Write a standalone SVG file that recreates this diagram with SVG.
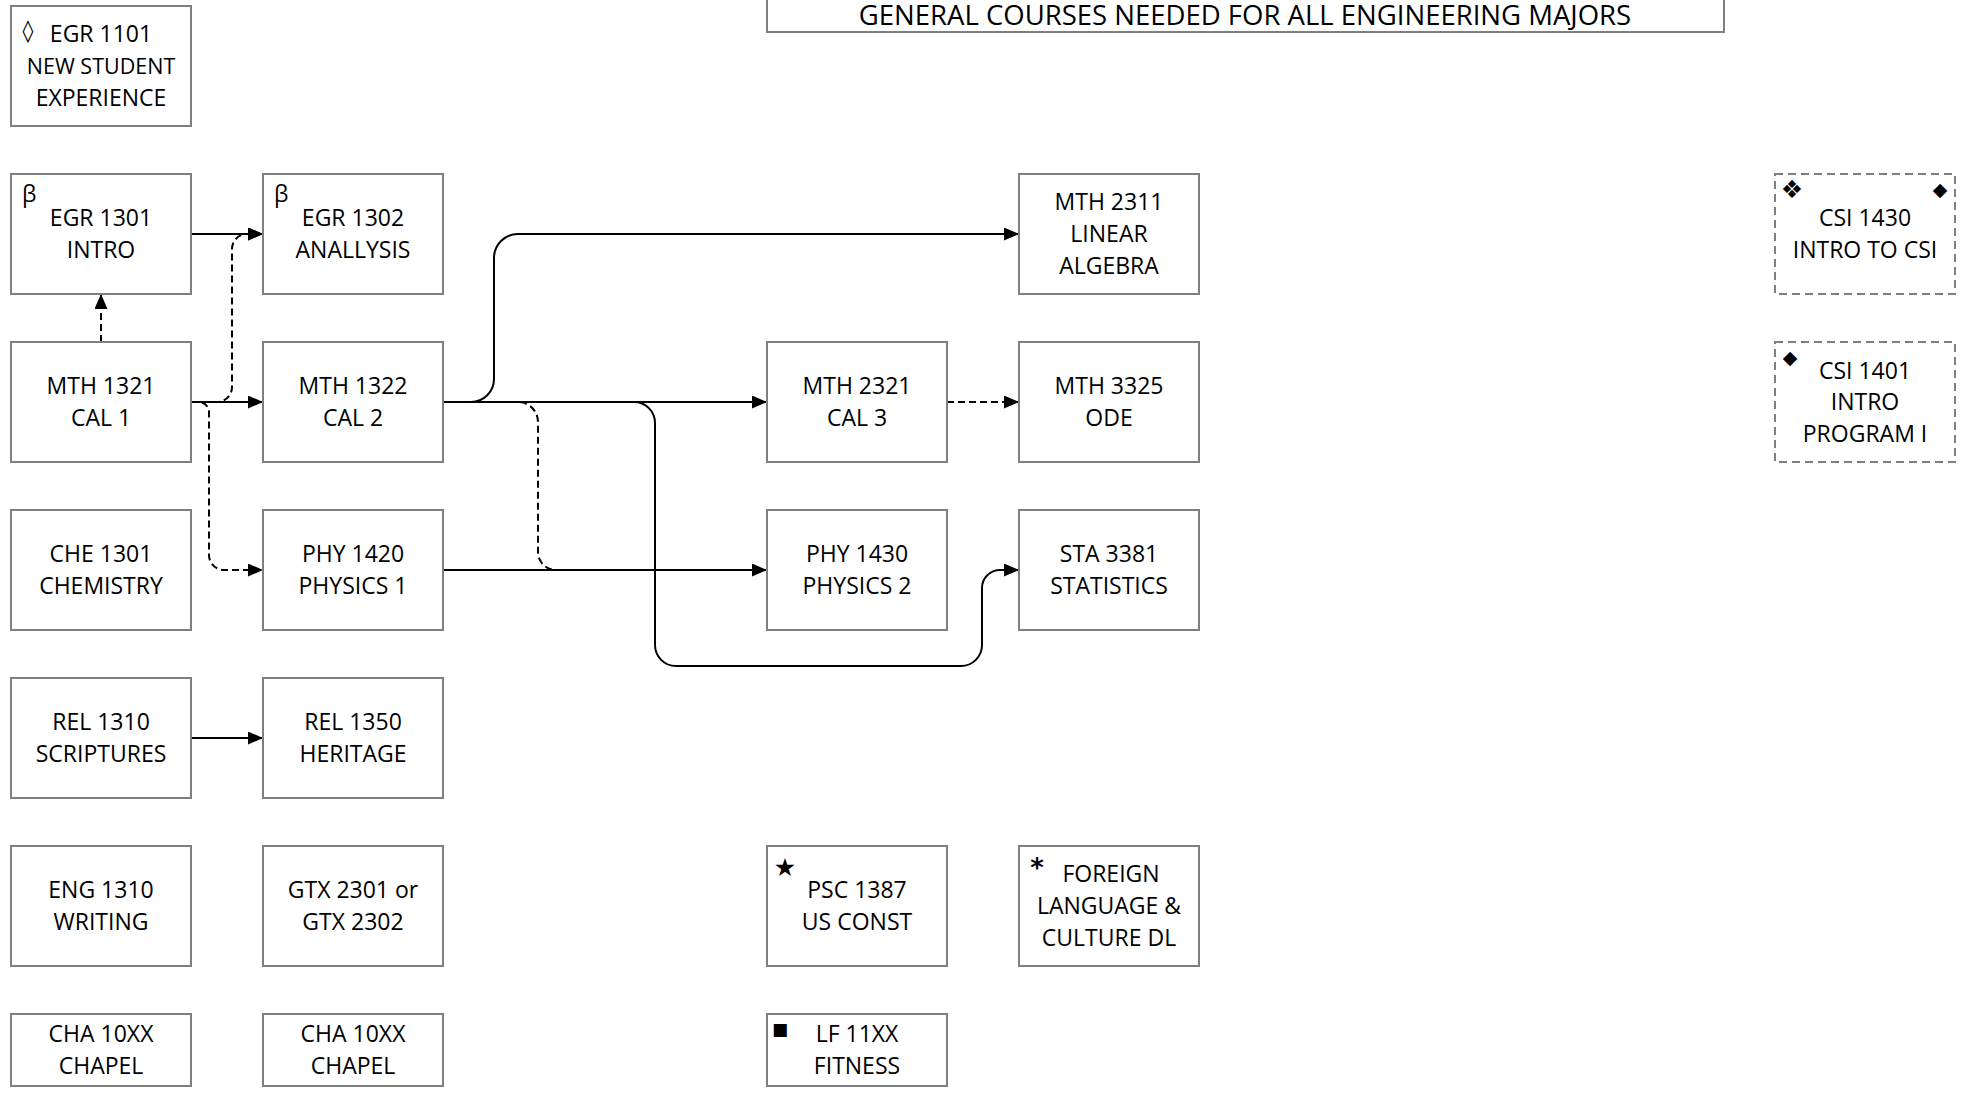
<svg xmlns="http://www.w3.org/2000/svg" width="1976" height="1095" viewBox="0 0 1976 1095">
<style>
.box{fill:#fff;stroke:#7f7f7f;stroke-width:2}
.dbox{fill:#fff;stroke:#7f7f7f;stroke-width:2;stroke-dasharray:8 5}
.t{font-family:'Open Sans','Noto Sans',sans-serif;font-size:23px;text-anchor:middle;fill:#000}
.title{font-family:'Open Sans','Noto Sans',sans-serif;font-size:27.5px;text-anchor:middle;fill:#000}
.sym{font-family:'DejaVu Sans',sans-serif;fill:#000;text-anchor:middle}
.beta{font-family:'Open Sans','Noto Sans',sans-serif;font-size:23px;fill:#000}
.c{fill:none;stroke:#000;stroke-width:2;marker-end:url(#arr)}
.cn{fill:none;stroke:#000;stroke-width:2}
.d{stroke-dasharray:7 4}
</style>
<defs>
<marker id="arr" markerUnits="userSpaceOnUse" markerWidth="15" markerHeight="13" refX="15" refY="6.5" orient="auto">
<path d="M0,0 L15,6.5 L0,13 z" fill="#000"/>
</marker>
</defs>
<rect width="1976" height="1095" fill="#fff"/>

<g id="title">
<rect x="767" y="-30" width="957" height="62" class="box"/>
<text x="1245" y="25" class="title">GENERAL COURSES NEEDED FOR ALL ENGINEERING MAJORS</text>
</g>

<g id="connectors">
<path class="c" d="M191,234 H263"/>
<path class="c d" d="M101,342 V294"/>
<path class="c d" d="M191,402 H217 A15,15 0 0 0 232,387 V249 A15,15 0 0 1 247,234 H263"/>
<path class="c d" d="M191,402 H199 A10,10 0 0 1 209,412 V555 A15,15 0 0 0 224,570 H263"/>
<path class="c" d="M191,402 H263"/>
<path class="c" d="M443,402 H471 A23,23 0 0 0 494,379 V258 A24,24 0 0 1 518,234 H1019"/>
<path class="cn d" d="M443,402 H518 A20,20 0 0 1 538,422 V552 A18,18 0 0 0 556,570"/>
<path class="c" d="M443,402 H634 A21,21 0 0 1 655,423 V645 A21,21 0 0 0 676,666 H961 A21,21 0 0 0 982,645 V588 A18,18 0 0 1 1000,570 H1019"/>
<path class="c" d="M443,402 H767"/>
<path class="c d" d="M947,402 H1019"/>
<path class="c" d="M443,570 H767"/>
<path class="c" d="M191,738 H263"/>
</g>

<g id="egr1101">
<rect x="11" y="6" width="180" height="120" class="box"/>
<text x="28" y="38" class="sym" font-size="22">◊</text>
<text x="101" y="42" class="t">EGR 1101</text>
<text x="101" y="74" class="t" style="font-size:21.5px">NEW STUDENT</text>
<text x="101" y="106" class="t">EXPERIENCE</text>
</g>

<g id="egr1301">
<rect x="11" y="174" width="180" height="120" class="box"/>
<text x="22" y="202" class="beta">β</text>
<text x="101" y="226" class="t">EGR 1301</text>
<text x="101" y="258" class="t">INTRO</text>
</g>

<g id="egr1302">
<rect x="263" y="174" width="180" height="120" class="box"/>
<text x="274" y="202" class="beta">β</text>
<text x="353" y="226" class="t">EGR 1302</text>
<text x="353" y="258" class="t">ANALLYSIS</text>
</g>

<g id="mth2311">
<rect x="1019" y="174" width="180" height="120" class="box"/>
<text x="1109" y="210" class="t">MTH 2311</text>
<text x="1109" y="242" class="t">LINEAR</text>
<text x="1109" y="274" class="t">ALGEBRA</text>
</g>

<g id="csi1430">
<rect x="1775" y="174" width="180" height="120" class="dbox"/>
<text x="1792" y="198" class="sym" font-size="25">❖</text>
<text x="1940" y="196" class="sym" font-size="19">◆</text>
<text x="1865" y="226" class="t">CSI 1430</text>
<text x="1865" y="258" class="t">INTRO TO CSI</text>
</g>

<g id="mth1321">
<rect x="11" y="342" width="180" height="120" class="box"/>
<text x="101" y="394" class="t">MTH 1321</text>
<text x="101" y="426" class="t">CAL 1</text>
</g>

<g id="mth1322">
<rect x="263" y="342" width="180" height="120" class="box"/>
<text x="353" y="394" class="t">MTH 1322</text>
<text x="353" y="426" class="t">CAL 2</text>
</g>

<g id="mth2321">
<rect x="767" y="342" width="180" height="120" class="box"/>
<text x="857" y="394" class="t">MTH 2321</text>
<text x="857" y="426" class="t">CAL 3</text>
</g>

<g id="mth3325">
<rect x="1019" y="342" width="180" height="120" class="box"/>
<text x="1109" y="394" class="t">MTH 3325</text>
<text x="1109" y="426" class="t">ODE</text>
</g>

<g id="csi1401">
<rect x="1775" y="342" width="180" height="120" class="dbox"/>
<text x="1790" y="364" class="sym" font-size="19">◆</text>
<text x="1865" y="379" class="t">CSI 1401</text>
<text x="1865" y="410" class="t">INTRO</text>
<text x="1865" y="442" class="t">PROGRAM I</text>
</g>

<g id="che1301">
<rect x="11" y="510" width="180" height="120" class="box"/>
<text x="101" y="562" class="t">CHE 1301</text>
<text x="101" y="594" class="t">CHEMISTRY</text>
</g>

<g id="phy1420">
<rect x="263" y="510" width="180" height="120" class="box"/>
<text x="353" y="562" class="t">PHY 1420</text>
<text x="353" y="594" class="t">PHYSICS 1</text>
</g>

<g id="phy1430">
<rect x="767" y="510" width="180" height="120" class="box"/>
<text x="857" y="562" class="t">PHY 1430</text>
<text x="857" y="594" class="t">PHYSICS 2</text>
</g>

<g id="sta3381">
<rect x="1019" y="510" width="180" height="120" class="box"/>
<text x="1109" y="562" class="t">STA 3381</text>
<text x="1109" y="594" class="t">STATISTICS</text>
</g>

<g id="rel1310">
<rect x="11" y="678" width="180" height="120" class="box"/>
<text x="101" y="730" class="t">REL 1310</text>
<text x="101" y="762" class="t">SCRIPTURES</text>
</g>

<g id="rel1350">
<rect x="263" y="678" width="180" height="120" class="box"/>
<text x="353" y="730" class="t">REL 1350</text>
<text x="353" y="762" class="t">HERITAGE</text>
</g>

<g id="eng1310">
<rect x="11" y="846" width="180" height="120" class="box"/>
<text x="101" y="898" class="t">ENG 1310</text>
<text x="101" y="930" class="t">WRITING</text>
</g>

<g id="gtx">
<rect x="263" y="846" width="180" height="120" class="box"/>
<text x="353" y="898" class="t">GTX 2301 or</text>
<text x="353" y="930" class="t">GTX 2302</text>
</g>

<g id="psc1387">
<rect x="767" y="846" width="180" height="120" class="box"/>
<text x="785" y="876" class="sym" font-size="25">★</text>
<text x="857" y="898" class="t">PSC 1387</text>
<text x="857" y="930" class="t">US CONST</text>
</g>

<g id="foreign">
<rect x="1019" y="846" width="180" height="120" class="box"/>
<text x="1037" y="877" class="sym" font-size="26" font-weight="bold">*</text>
<text x="1111" y="882" class="t">FOREIGN</text>
<text x="1109" y="914" class="t">LANGUAGE &amp;</text>
<text x="1109" y="946" class="t">CULTURE DL</text>
</g>

<g id="cha1">
<rect x="11" y="1014" width="180" height="72" class="box"/>
<text x="101" y="1042" class="t">CHA 10XX</text>
<text x="101" y="1074" class="t">CHAPEL</text>
</g>

<g id="cha2">
<rect x="263" y="1014" width="180" height="72" class="box"/>
<text x="353" y="1042" class="t">CHA 10XX</text>
<text x="353" y="1074" class="t">CHAPEL</text>
</g>

<g id="lf11xx">
<rect x="767" y="1014" width="180" height="72" class="box"/>
<text x="780" y="1035" class="sym" font-size="17">■</text>
<text x="857" y="1042" class="t">LF 11XX</text>
<text x="857" y="1074" class="t">FITNESS</text>
</g>
</svg>
